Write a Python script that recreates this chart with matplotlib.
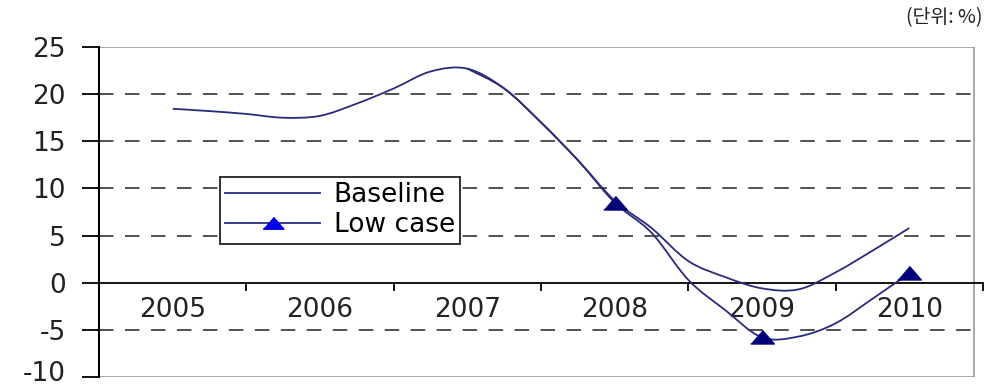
import matplotlib.pyplot as plt
from matplotlib.lines import Line2D
from matplotlib.patches import Rectangle, PathPatch
from matplotlib.path import Path
from matplotlib.transforms import ScaledTranslation

# Growth rate (%), quarterly readings; index 0 = 2005, 1 = 2006, ...
years = ["2005", "2006", "2007", "2008", "2009", "2010"]
baseline_x = [0, 0.25, 0.5, 0.75, 1.0, 1.25, 1.5, 1.75, 2.0, 2.25, 2.5,
              2.75, 3.0, 3.25, 3.5, 3.75, 4.0, 4.25, 4.5, 4.75, 5.0]
baseline = [18.45, 18.2, 17.9, 17.5, 17.7, 19.0, 20.6, 22.4, 22.7, 20.6,
            17.0, 13.0, 8.7, 5.8, 2.3, 0.6, -0.6, -0.7, 1.1, 3.4, 5.8]
low_x = [2.0, 2.25, 2.5, 2.75, 3.0, 3.25, 3.5, 3.75, 4.0, 4.25, 4.5,
         4.75, 5.0]
low_case = [22.7, 20.6, 17.0, 13.0, 8.5, 5.3, 0.3, -2.9, -5.8, -5.7, -4.3,
            -1.7, 1.0]
low_marks = [4, 8, 12]  # annual points in low_case

line_col = "#2a2a7e"
mark_col = "#00007a"
font = "DejaVu Sans"
tri = [(-1, -0.55), (1, -0.55), (0, 0.6)]


def smooth_line(ax, xs, ys, **kw):
    # Catmull-Rom curve through the points, as cubic Bezier segments
    pts = list(zip(xs, ys))
    verts = [pts[0]]
    codes = [Path.MOVETO]
    n = len(pts)
    for i in range(n - 1):
        p0 = pts[i - 1] if i > 0 else pts[i]
        p1 = pts[i]
        p2 = pts[i + 1]
        p3 = pts[i + 2] if i + 2 < n else pts[i + 1]
        c1 = (p1[0] + (p2[0] - p0[0]) / 6, p1[1] + (p2[1] - p0[1]) / 6)
        c2 = (p2[0] - (p3[0] - p1[0]) / 6, p2[1] - (p3[1] - p1[1]) / 6)
        verts += [c1, c2, p2]
        codes += [Path.CURVE4] * 3
    ax.add_patch(PathPatch(Path(verts, codes), fill=False, **kw))


fig = plt.figure(figsize=(9.86, 3.87), dpi=100)
ax = fig.add_axes([99 / 986, 1 - 377 / 387, 884 / 986, 330 / 387])

ax.set_xlim(-0.5, 5.5)
ax.set_ylim(-10, 25)

# plot-area border (grey) stops short of the category axis end
right_edge = 5.44
ax.add_patch(Rectangle((-0.5, -10), right_edge + 0.5, 35, fill=False,
                       edgecolor="#999999", lw=1.2, zorder=1))

for y in [20, 15, 10, 5, -5]:
    ax.plot([-0.5, right_edge], [y, y], color="#222222", lw=1.1,
            linestyle=(0, (9.5, 7.5)), zorder=1)

smooth_line(ax, baseline_x, baseline, edgecolor=line_col, lw=1.3, zorder=3)
smooth_line(ax, low_x, low_case, edgecolor=line_col, lw=1.3, zorder=3)
ax.plot([low_x[i] for i in low_marks], [low_case[i] for i in low_marks],
        linestyle="none", marker=tri, ms=17, markerfacecolor=mark_col,
        markeredgecolor=mark_col, zorder=4)

# spines: black value axis, category axis through zero
for s in ["top", "right"]:
    ax.spines[s].set_visible(False)
ax.spines["left"].set_linewidth(1.5)
ax.spines["left"].set_color("black")
ax.spines["bottom"].set_position(("data", 0))
ax.spines["bottom"].set_linewidth(1.3)
ax.spines["bottom"].set_zorder(2)

ax.set_yticks(range(-10, 26, 5))
ax.set_yticklabels([str(v) for v in range(-10, 26, 5)], fontsize=19,
                   family=font, color="#222222")
ax.tick_params(axis="y", length=12, width=1.3, pad=12)
# keep the lowest label inside the figure
bottom_lab = ax.get_yticklabels()[0]
bottom_lab.set_transform(bottom_lab.get_transform() +
                         ScaledTranslation(0, 4 / 72, fig.dpi_scale_trans))

ax.set_xticks([0.5, 1.5, 2.5, 3.5, 4.5, 5.5])
ax.set_xticklabels([])
ax.tick_params(axis="x", length=6, width=1.3, direction="out")

for i, yr in enumerate(years):
    ax.text(i, -2.9, yr, ha="center", va="center", fontsize=19,
            family=font, color="#222222", zorder=2)

handles = [
    Line2D([], [], color=line_col, lw=1.3),
    Line2D([], [], color=line_col, lw=1.3, marker=tri, ms=15,
           markerfacecolor="#0000ee", markeredgecolor="#0000ee"),
]
leg = ax.legend(handles, ["Baseline", "Low case"], loc="upper left",
                bbox_to_anchor=(0.137, 0.606), frameon=True, fancybox=False,
                framealpha=1, edgecolor="#222222", handlelength=3.6,
                handletextpad=0.5, borderpad=0.2, labelspacing=0.15,
                prop={"family": font, "size": 19}, borderaxespad=0)
leg.get_frame().set_linewidth(1.3)
leg.set_zorder(5)

fig.text(982 / 986, 1 - 18 / 387, "(단위: %)", ha="right", va="center",
         fontsize=14, family=["Noto Sans CJK KR", "DejaVu Sans"],
         color="#222222")

fig.savefig("out.png", dpi=100, facecolor="white")
